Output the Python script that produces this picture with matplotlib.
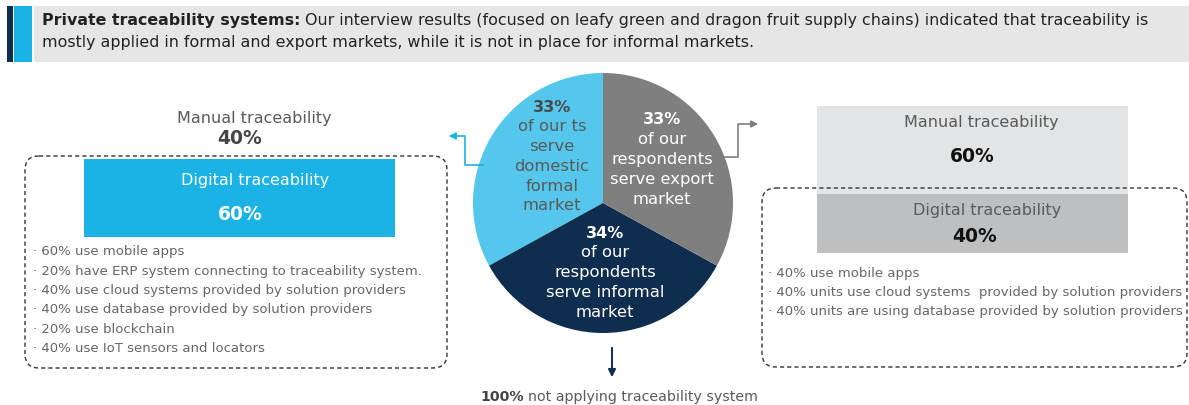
import matplotlib
matplotlib.use("Agg")
import matplotlib.pyplot as plt
from matplotlib.patches import Rectangle, FancyBboxPatch

# market split of respondents (pie, from top going counter-clockwise)
market_shares = [33, 34, 33]
market_colors = ["#55C6EC", "#0F2D4E", "#7F7F80"]
market_texts = [
    ["of our ts", "serve", "domestic", "formal", "market"],
    ["of our", "respondents", "serve informal", "market"],
    ["of our", "respondents", "serve export", "market"],
]

# formal domestic market: digital vs manual traceability
formal_manual = 40
formal_digital = 60
formal_bullets = [
    "60% use mobile apps",
    "20% have ERP system connecting to traceability system.",
    "40% use cloud systems provided by solution providers",
    "40% use database provided by solution providers",
    "20% use blockchain",
    "40% use IoT sensors and locators",
]

# export market
export_manual = 60
export_digital = 40
export_bullets = [
    "40% use mobile apps",
    "40% units use cloud systems  provided by solution providers",
    "40% units are using database provided by solution providers",
]

informal_none = 100

W, H = 1189, 405
fig = plt.figure(figsize=(W / 100, H / 100), dpi=100)
ax = fig.add_axes([0, 0, 1, 1])
plt.rcParams['font.family'] = ['DejaVu Sans']

GREY_TXT = "#5a5a5a"
DARK = "#222222"

# header band
ax.add_patch(Rectangle((7, 6), 5.5, 56, color="#0F2D4E", lw=0))
ax.add_patch(Rectangle((13.5, 6), 18.5, 56, color="#1BB3E6", lw=0))
ax.add_patch(Rectangle((34, 6), 1155, 56, color="#E6E6E6", lw=0))

# pie
wedges, _ = ax.pie(market_shares, colors=market_colors, startangle=-90,
                   counterclock=False, center=(603, 203), radius=130,
                   wedgeprops=dict(linewidth=0))
ax.set_xlim(0, W)
ax.set_ylim(H, 0)
ax.axis("off")

renderer = fig.canvas.get_renderer()
hs = 11.45
t1 = ax.text(42, 21, "Private traceability systems:", fontsize=hs, fontweight="bold",
             color=DARK, va="center")
bb = t1.get_window_extent(renderer)
ax.text(bb.x1 + 5, 21, "Our interview results (focused on leafy green and dragon fruit supply chains) "
        "indicated that traceability is", fontsize=hs, color=DARK, va="center")
ax.text(42, 42, "mostly applied in formal and export markets, while it is not in place for informal markets.",
        fontsize=hs, color=DARK, va="center")

# pie labels
pie_fs = 11.8
lab_pos = [(552, 107, GREY_TXT, "#4a4a4a"), (605, 233, "white", "white"), (662, 120, "white", "white")]
for share, lines, (x, y, c, cb) in zip(market_shares, market_texts, lab_pos):
    ax.text(x, y, f"{share}%", fontsize=pie_fs - 0.3, fontweight="bold", color=cb, ha="center", va="center")
    for i, ln in enumerate(lines):
        ax.text(x, y + 19.8 * (i + 1), ln, fontsize=pie_fs, color=c, ha="center", va="center")

# connectors
ax.plot([483, 465, 465, 452], [165, 165, 136, 136], color="#1BB3E6", lw=1.2)
ax.annotate("", xy=(446, 136), xytext=(458, 136),
            arrowprops=dict(arrowstyle="-|>", color="#1BB3E6", lw=1.2, mutation_scale=10))
ax.plot([725, 738, 738, 752], [157, 157, 124, 124], color="#7F7F80", lw=1.2)
ax.annotate("", xy=(761, 124), xytext=(748, 124),
            arrowprops=dict(arrowstyle="-|>", color="#7F7F80", lw=1.2, mutation_scale=10))
ax.annotate("", xy=(612, 380), xytext=(612, 345),
            arrowprops=dict(arrowstyle="-|>", color="#0F2D4E", lw=1.4, mutation_scale=11))

t2 = ax.text(480, 397, f"{informal_none}%", fontsize=10.2, fontweight="bold", color="#444444", va="center")
bb = t2.get_window_extent(renderer)
ax.text(bb.x1 + 4, 397, "not applying traceability system", fontsize=10.2, color=GREY_TXT, va="center")

# left panel
ax.add_patch(FancyBboxPatch((25, 156), 422, 212, boxstyle="round,pad=0,rounding_size=14",
                            fill=False, ec="#333333", lw=1, ls=(0, (3, 2.2))))
k_left = 1.3
ax.bar(239.5, -formal_digital * k_left, bottom=237, width=311, color="#1BB3E6", lw=0)
ax.text(255, 181, "Digital traceability", fontsize=11.5, color="white", ha="center", va="center")
ax.text(240, 215, f"{formal_digital}%", fontsize=13.5, fontweight="bold", color="white",
        ha="center", va="center")
ax.text(254, 118, "Manual traceability", fontsize=11.5, color=GREY_TXT, ha="center", va="center")
ax.text(240, 139, f"{formal_manual}%", fontsize=13.5, fontweight="bold", color="#444444",
        ha="center", va="center")
for i, b in enumerate(formal_bullets):
    ax.text(33, 252 + 19.3 * i, "· " + b, fontsize=9.5, color="#666666", va="center")

# right panel
k_right = 1.475
ax.bar(972.5, -export_digital * k_right, bottom=253, width=311, color="#BEBFC1", lw=0)
ax.bar(972.5, -export_manual * k_right, bottom=253 - export_digital * k_right, width=311,
       color="#E3E4E5", lw=0)
ax.text(981, 123, "Manual traceability", fontsize=11.5, color=GREY_TXT, ha="center", va="center")
ax.text(972, 157, f"{export_manual}%", fontsize=13.5, fontweight="bold", color="#111111",
        ha="center", va="center")
ax.text(987, 211, "Digital traceability", fontsize=11.5, color=GREY_TXT, ha="center", va="center")
ax.text(975, 237, f"{export_digital}%", fontsize=13.5, fontweight="bold", color="#111111",
        ha="center", va="center")
ax.add_patch(FancyBboxPatch((762, 188), 425, 179, boxstyle="round,pad=0,rounding_size=14",
                            fill=False, ec="#333333", lw=1, ls=(0, (3, 2.2))))
for i, b in enumerate(export_bullets):
    ax.text(768, 274 + 18.8 * i, "· " + b, fontsize=9.5, color="#666666", va="center")

fig.savefig("out.png", dpi=100)
